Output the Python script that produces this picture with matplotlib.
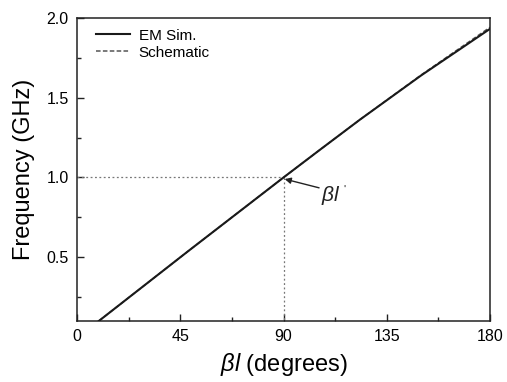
import matplotlib
matplotlib.use("Agg")
import matplotlib.pyplot as plt
from matplotlib.ticker import MultipleLocator

plt.rcParams['font.family'] = ['Liberation Sans', 'DejaVu Sans']
plt.rcParams['mathtext.fontset'] = 'custom'
plt.rcParams['mathtext.rm'] = 'Liberation Sans'
plt.rcParams['mathtext.it'] = 'Liberation Sans:italic'

beta_em = [9.5, 48.4, 90, 106, 123.3, 150, 180]
freq_em = [0.1, 0.5375, 1.0, 1.175, 1.3625, 1.64, 1.932]
beta_sch = [9.5, 48.4, 90, 106, 123.3, 150, 180]
freq_sch = [0.1, 0.5375, 1.0, 1.175, 1.3625, 1.643, 1.942]
mark_x = 90
mark_y = 1.0

fig = plt.figure(figsize=(5.07, 3.82), dpi=100)
ax = fig.add_axes([0.1519, 0.1597, 0.8146, 0.7932])

ax.plot(beta_em, freq_em, color='#1a1a1a', lw=1.5, label='EM Sim.', zorder=3)
ax.plot(beta_sch, freq_sch, color='#555555', lw=1.1, ls=(0, (3, 1.5)), label='Schematic', zorder=2)

ax.plot([0, mark_x], [mark_y, mark_y], color='#777777', lw=0.9, ls=(0, (1.5, 2)))
ax.plot([mark_x, mark_x], [0, mark_y], color='#777777', lw=0.9, ls=(0, (1.5, 2)))

ax.annotate("", xy=(mark_x + 0.5, mark_y - 0.01), xytext=(105.5, 0.935),
            arrowprops=dict(arrowstyle='-|>', color='#222222', lw=1.0,
                            mutation_scale=9, shrinkA=0, shrinkB=0))
ax.text(106.3, 0.885, r"$\beta l$", fontsize=15, color='#222222',
        ha='left', va='center')
ax.text(116.0, 0.925, "'", fontsize=8, color='#222222', ha='left', va='center')

ax.set_xlim(0, 180)
ax.set_ylim(0.1, 2.0)
ax.xaxis.set_major_locator(MultipleLocator(45))
ax.xaxis.set_minor_locator(MultipleLocator(22.5))
ax.yaxis.set_minor_locator(MultipleLocator(0.25))
ax.set_yticks([0.5, 1.0, 1.5, 2.0])
ax.tick_params(which='both', direction='in', labelsize=11.5, width=1.0, color='#222222')
ax.tick_params(which='major', length=5, pad=6)
ax.tick_params(which='minor', length=3)
for s in ax.spines.values():
    s.set_linewidth(1.1)
    s.set_color('#222222')

ax.set_xlabel(r"$\beta l$ (degrees)", fontsize=17, labelpad=5)
ax.set_ylabel("Frequency (GHz)", fontsize=17, labelpad=8)

leg = ax.legend(loc='upper left', frameon=False, fontsize=11,
                handlelength=2.2, handletextpad=0.6, labelspacing=0.2,
                borderaxespad=0.3, bbox_to_anchor=(0.02, 1.0))

fig.savefig("out.png", dpi=100)
